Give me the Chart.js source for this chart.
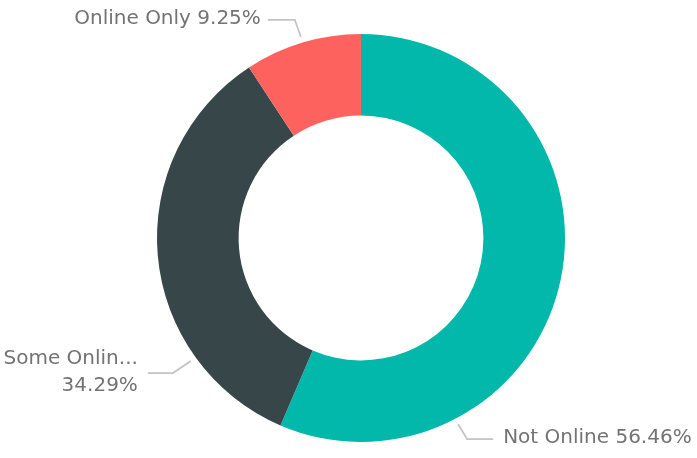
<!DOCTYPE html>
<html>
<head>
<meta charset="utf-8">
<script src="https://cdn.jsdelivr.net/npm/chart.js@4"></script>
<style>
  html, body { margin: 0; padding: 0; background: #fff; }
  #wrap { width: 697px; height: 458px; }
</style>
</head>
<body>
<div id="wrap"><canvas id="donut" width="697" height="458"></canvas></div>
<script>
// Online status split (donut with outside labels + leader lines)
const categories = ["Not Online", "Some Online", "Online Only"];
const displayNames = ["Not Online", "Some Onlin...", "Online Only"];
const shares = [56.46, 34.29, 9.25];
const colors = ["#01B8AA", "#374649", "#FD625E"];

const LABEL_FONT = '20px "DejaVu Sans", sans-serif';

// where each leader line leaves its slice (fraction along the arc) and how it bends
const leaders = [
  { frac: 0.75, elbow: [9, 15], run: 26, gap: 10, side: "right", twoLine: false },
  { frac: 0.25, elbow: [-18, 12], run: 25, gap: 10, side: "left", twoLine: true },
  { frac: 0.5, elbow: [-6, -17], run: 27, gap: 7, side: "left", twoLine: false },
];

const leaderLabels = {
  id: "leaderLabels",
  afterDatasetsDraw(chart) {
    const ctx = chart.ctx;
    const meta = chart.getDatasetMeta(0);
    ctx.save();
    ctx.font = LABEL_FONT;
    meta.data.forEach((arc, i) => {
      const L = leaders[i];
      const p = arc.getProps(["x", "y", "startAngle", "endAngle", "outerRadius"], true);
      const a = p.startAngle + L.frac * (p.endAngle - p.startAngle);
      const r = p.outerRadius + 6;
      const ax = p.x + Math.cos(a) * r;
      const ay = p.y + Math.sin(a) * r;
      const ex = ax + L.elbow[0];
      const ey = ay + L.elbow[1];
      const dir = L.side === "right" ? 1 : -1;
      const hx = ex + dir * L.run;

      ctx.strokeStyle = "#c4c4c4";
      ctx.lineWidth = 1.8;
      ctx.beginPath();
      ctx.moveTo(ax, ay);
      ctx.lineTo(ex, ey);
      ctx.lineTo(hx, ey);
      ctx.stroke();

      ctx.fillStyle = "#737373";
      ctx.textBaseline = "middle";
      ctx.textAlign = L.side === "right" ? "left" : "right";
      const tx = hx + dir * L.gap;
      const pct = shares[i].toFixed(2) + "%";
      if (L.twoLine) {
        ctx.fillText(displayNames[i], tx, ey - 14);
        ctx.fillText(pct, tx, ey + 13);
      } else {
        ctx.fillText(displayNames[i] + " " + pct, tx, ey - 1);
      }
    });
    ctx.restore();
  },
};

new Chart(document.getElementById("donut").getContext("2d"), {
  type: "doughnut",
  data: {
    labels: categories,
    datasets: [{ data: shares, backgroundColor: colors, borderWidth: 0 }],
  },
  options: {
    responsive: false,
    animation: false,
    cutout: "60%",
    layout: { padding: { top: 34, bottom: 16, left: 157, right: 132 } },
    plugins: { legend: { display: false }, tooltip: { enabled: false } },
  },
  plugins: [leaderLabels],
});
</script>
</body>
</html>
